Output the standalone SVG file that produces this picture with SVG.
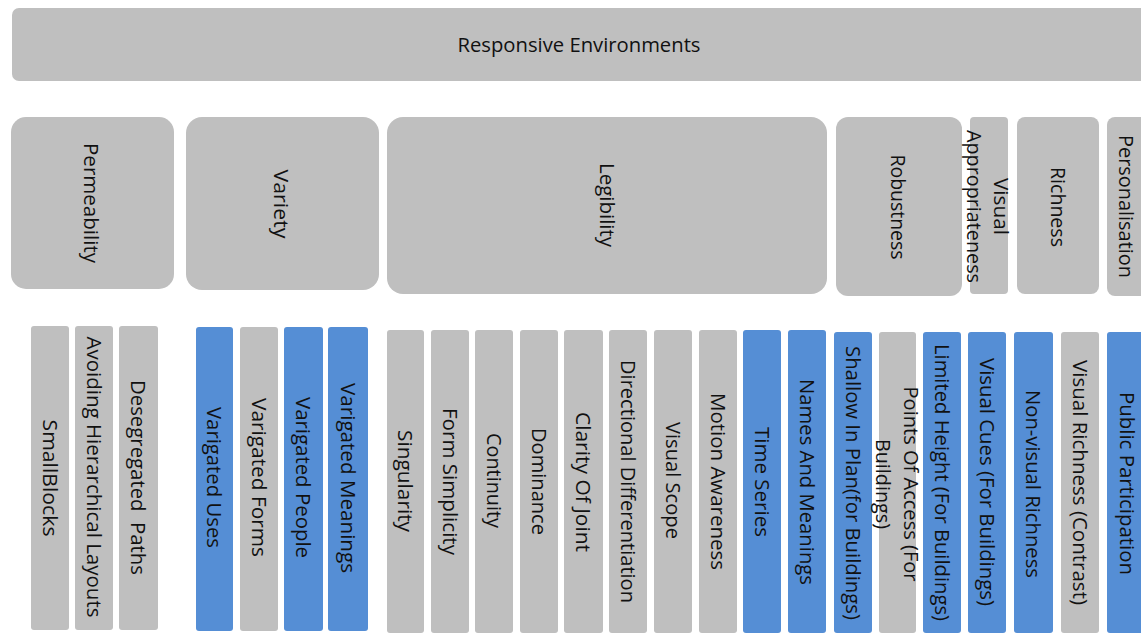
<svg xmlns="http://www.w3.org/2000/svg" width="1141" height="634" viewBox="0 0 1141 634">
<style>
.g{fill:#BFBFBF}
.b{fill:#558ED5}
text{font-family:"Open Sans","Liberation Sans",sans-serif;font-size:20px;fill:#111;text-anchor:middle;dominant-baseline:central}
</style>
<rect width="1141" height="634" fill="#fff"/>
<g id="root"><rect class="g" x="12" y="8" width="1150" height="73" rx="7"/><text x="579" y="44" textLength="243" lengthAdjust="spacingAndGlyphs">Responsive Environments</text></g>
<g id="connectors"></g>
<g id="cat-permeability"><rect class="g" x="11" y="117" width="163" height="172" rx="15"/><text transform="translate(91,203) rotate(90)" textLength="120" lengthAdjust="spacingAndGlyphs">Permeability</text></g>
<g id="cat-variety"><rect class="g" x="186" y="117" width="193" height="173" rx="16"/><text transform="translate(281,204) rotate(90)" textLength="69" lengthAdjust="spacingAndGlyphs">Variety</text></g>
<g id="cat-legibility"><rect class="g" x="387" y="117" width="440" height="177" rx="16"/><text transform="translate(607,205) rotate(90)" textLength="84" lengthAdjust="spacingAndGlyphs">Legibility</text></g>
<g id="cat-robustness"><rect class="g" x="836" y="117" width="126" height="179" rx="12"/><text transform="translate(898,207) rotate(90)" textLength="105" lengthAdjust="spacingAndGlyphs">Robustness</text></g>
<g id="cat-visual-appropriateness"><rect class="g" x="970" y="117" width="38" height="177" rx="4"/><text transform="translate(988.5,206.5) rotate(90)"><tspan x="0" y="-13.5" textLength="57" lengthAdjust="spacingAndGlyphs">Visual</tspan><tspan x="0" y="13.5" textLength="153" lengthAdjust="spacingAndGlyphs">Appropriateness</tspan></text></g>
<g id="cat-richness"><rect class="g" x="1017" y="117" width="82" height="177" rx="8"/><text transform="translate(1058,207) rotate(90)" textLength="80" lengthAdjust="spacingAndGlyphs">Richness</text></g>
<g id="cat-personalisation"><rect class="g" x="1107" y="117" width="60" height="179" rx="8"/><text transform="translate(1126,206.5) rotate(90)" textLength="143" lengthAdjust="spacingAndGlyphs">Personalisation</text></g>

<g id="small-blocks"><rect class="g" x="31" y="326" width="38" height="304" rx="3"/><text transform="translate(50,478) rotate(90)" textLength="117" lengthAdjust="spacingAndGlyphs">SmallBlocks</text></g>
<g id="avoiding-hierarchical-layouts"><rect class="g" x="75" y="326" width="38" height="304" rx="3"/><text transform="translate(94,477) rotate(90)" textLength="281" lengthAdjust="spacingAndGlyphs">Avoiding Hierarchical Layouts</text></g>
<g id="desegregated-paths"><rect class="g" x="119" y="326" width="39" height="304" rx="3"/><text transform="translate(138.5,477.5) rotate(90)" textLength="195" lengthAdjust="spacingAndGlyphs" xml:space="preserve">Desegregated  Paths</text></g>
<g id="varigated-uses"><rect class="b" x="196" y="327" width="37" height="304" rx="3"/><text transform="translate(214.5,477.5) rotate(90)" textLength="141" lengthAdjust="spacingAndGlyphs">Varigated Uses</text></g>
<g id="varigated-forms"><rect class="g" x="240" y="327" width="38" height="304" rx="3"/><text transform="translate(259,477.5) rotate(90)" textLength="159" lengthAdjust="spacingAndGlyphs">Varigated Forms</text></g>
<g id="varigated-people"><rect class="b" x="284" y="327" width="39" height="304" rx="3"/><text transform="translate(303.5,477.5) rotate(90)" textLength="161" lengthAdjust="spacingAndGlyphs">Varigated People</text></g>
<g id="varigated-meanings"><rect class="b" x="328" y="327" width="40" height="304" rx="3"/><text transform="translate(348,478) rotate(90)" textLength="190" lengthAdjust="spacingAndGlyphs">Varigated Meanings</text></g>

<g id="singularity"><rect class="g" x="387" y="330" width="37" height="303" rx="3"/><text transform="translate(405.5,481) rotate(90)" textLength="102" lengthAdjust="spacingAndGlyphs">Singularity</text></g>
<g id="form-simplicity"><rect class="g" x="431" y="330" width="38" height="303" rx="3"/><text transform="translate(450,481.5) rotate(90)" textLength="147" lengthAdjust="spacingAndGlyphs">Form Simplicity</text></g>
<g id="continuity"><rect class="g" x="475" y="330" width="38" height="303" rx="3"/><text transform="translate(494,480.5) rotate(90)" textLength="95" lengthAdjust="spacingAndGlyphs">Continuity</text></g>
<g id="dominance"><rect class="g" x="520" y="330" width="38" height="303" rx="3"/><text transform="translate(539,481.5) rotate(90)" textLength="107" lengthAdjust="spacingAndGlyphs">Dominance</text></g>
<g id="clarity-of-joint"><rect class="g" x="564" y="330" width="39" height="303" rx="3"/><text transform="translate(583.5,482) rotate(90)" textLength="140" lengthAdjust="spacingAndGlyphs">Clarity Of Joint</text></g>
<g id="directional-differentiation"><rect class="g" x="609" y="330" width="38" height="303" rx="3"/><text transform="translate(628,481.5) rotate(90)" textLength="243" lengthAdjust="spacingAndGlyphs">Directional Differentiation</text></g>
<g id="visual-scope"><rect class="g" x="654" y="330" width="38" height="303" rx="3"/><text transform="translate(673,480.5) rotate(90)" textLength="117" lengthAdjust="spacingAndGlyphs">Visual Scope</text></g>
<g id="motion-awareness"><rect class="g" x="699" y="330" width="38" height="303" rx="3"/><text transform="translate(718,481.5) rotate(90)" textLength="177" lengthAdjust="spacingAndGlyphs">Motion Awareness</text></g>
<g id="time-series"><rect class="b" x="743" y="330" width="38" height="303" rx="3"/><text transform="translate(762,482) rotate(90)" textLength="110" lengthAdjust="spacingAndGlyphs">Time Series</text></g>
<g id="names-and-meanings"><rect class="b" x="788" y="330" width="38" height="303" rx="3"/><text transform="translate(807,482) rotate(90)" textLength="206" lengthAdjust="spacingAndGlyphs">Names And Meanings</text></g>

<g id="shallow-in-plan"><rect class="b" x="834" y="332" width="38" height="301" rx="3"/><text transform="translate(853,483) rotate(90)" textLength="274" lengthAdjust="spacingAndGlyphs">Shallow In Plan(for Buildings)</text></g>
<g id="points-of-access"><rect class="g" x="879" y="332" width="37" height="301" rx="3"/><text transform="translate(898,484) rotate(90)"><tspan x="0" y="-14" textLength="195" lengthAdjust="spacingAndGlyphs">Points Of Access (For</tspan><tspan x="0" y="14" textLength="90" lengthAdjust="spacingAndGlyphs">Buildings)</tspan></text></g>
<g id="limited-height"><rect class="b" x="923" y="332" width="38" height="301" rx="3"/><text transform="translate(942,482.5) rotate(90)" textLength="277" lengthAdjust="spacingAndGlyphs">Limited Height (For Buildings)</text></g>
<g id="visual-cues"><rect class="b" x="968" y="332" width="38" height="301" rx="3"/><text transform="translate(987,482) rotate(90)" textLength="248" lengthAdjust="spacingAndGlyphs">Visual Cues (For Buildings)</text></g>
<g id="non-visual-richness"><rect class="b" x="1014" y="332" width="39" height="301" rx="3"/><text transform="translate(1033.5,484) rotate(90)" textLength="188" lengthAdjust="spacingAndGlyphs">Non-visual Richness</text></g>
<g id="visual-richness-contrast"><rect class="g" x="1061" y="332" width="38" height="301" rx="3"/><text transform="translate(1080,482.5) rotate(90)" textLength="245" lengthAdjust="spacingAndGlyphs">Visual Richness (Contrast)</text></g>
<g id="public-participation"><rect class="b" x="1107" y="332" width="60" height="301" rx="3"/><text transform="translate(1127,483.5) rotate(90)" textLength="183" lengthAdjust="spacingAndGlyphs">Public Participation</text></g>
</svg>
